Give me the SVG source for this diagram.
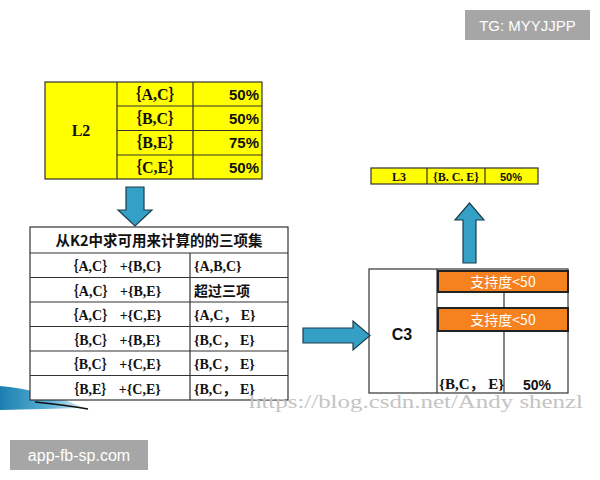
<svg xmlns="http://www.w3.org/2000/svg" width="600" height="480" viewBox="0 0 600 480">
<defs>
<linearGradient id="sw" x1="0" y1="0" x2="1" y2="0">
<stop offset="0" stop-color="#1a7fb0"/>
<stop offset="0.6" stop-color="#5fb3d6"/>
<stop offset="1" stop-color="#e8f4fa"/>
</linearGradient>
<style>
.ln{stroke:#333;stroke-width:1.2;fill:none}
.yl{fill:#ffff00;stroke:#333;stroke-width:1.2}
.ser{font-family:"Liberation Serif","Noto Sans CJK SC",serif;font-weight:bold;fill:#111}
.san{font-family:"Liberation Sans",Arial,sans-serif;font-weight:bold;fill:#111}
.cjk{font-family:"Noto Sans CJK SC",sans-serif;font-weight:bold;fill:#111}
.arr{fill:#35a0c6;stroke:#1d3d4d;stroke-width:1.2}
.org{fill:#f5821f;stroke:#222;stroke-width:2}
.ow{font-family:"Noto Sans CJK SC","Liberation Sans",sans-serif;fill:#fff;font-size:14px}
.tag{fill:#a6a6a6}
.tt{font-family:"Liberation Sans",Arial,sans-serif;fill:#fff}
</style>
</defs>
<rect width="600" height="480" fill="#fff"/>
<g id="swoosh">
<path d="M0,386 C25,388 55,395 85,408 L0,410 Z" fill="url(#sw)"/>
<path d="M35,402 C55,404 72,406 88,409" stroke="#111" stroke-width="1.6" fill="none"/>
</g>
<g id="L2">
<rect class="yl" x="45" y="82" width="217" height="97"/>
<path class="ln" d="M117,82V179M193,82V179M117,106H262M117,130.5H262M117,155H262"/>
<text class="ser" x="81" y="136" font-size="16" text-anchor="middle">L2</text>
<text class="ser" x="155" y="100" font-size="16" text-anchor="middle">｛A,C｝</text>
<text class="ser" x="155" y="124" font-size="16" text-anchor="middle">｛B,C｝</text>
<text class="ser" x="155" y="148" font-size="16" text-anchor="middle">｛B,E｝</text>
<text class="ser" x="155" y="173" font-size="16" text-anchor="middle">｛C,E｝</text>
<text class="san" x="259" y="100" font-size="15" text-anchor="end">50%</text>
<text class="san" x="259" y="124" font-size="15" text-anchor="end">50%</text>
<text class="san" x="259" y="148" font-size="15" text-anchor="end">75%</text>
<text class="san" x="259" y="173" font-size="15" text-anchor="end">50%</text>
</g>
<g id="T3">
<rect x="30" y="227" width="258" height="173" fill="#fff" stroke="#333" stroke-width="1.2"/>
<path class="ln" d="M30,253H288M30,277.5H288M30,302H288M30,326.5H288M30,351H288M30,375.5H288M190,253V400"/>
<text class="cjk" x="159" y="246" font-size="14.5" text-anchor="middle">从K2中求可用来计算的的三项集</text>
<text class="ser" x="113" y="271" font-size="14" text-anchor="middle">｛A,C｝ +{B,C}</text>
<text class="ser" x="113" y="295.5" font-size="14" text-anchor="middle">｛A,C｝ +{B,E}</text>
<text class="ser" x="113" y="320" font-size="14" text-anchor="middle">｛A,C｝ +{C,E}</text>
<text class="ser" x="113" y="344.5" font-size="14" text-anchor="middle">｛B,C｝ +{B,E}</text>
<text class="ser" x="113" y="369" font-size="14" text-anchor="middle">｛B,C｝ +{C,E}</text>
<text class="ser" x="113" y="393.5" font-size="14" text-anchor="middle">｛B,E｝ +{C,E}</text>
<text class="ser" x="194" y="271" font-size="14">{A,B,C}</text>
<text class="cjk" x="194" y="295.5" font-size="14">超过三项</text>
<text class="ser" x="194" y="320" font-size="14">{A,C， E}</text>
<text class="ser" x="194" y="344.5" font-size="14">{B,C， E}</text>
<text class="ser" x="194" y="369" font-size="14">{B,C， E}</text>
<text class="ser" x="194" y="393.5" font-size="14">{B,C， E}</text>
</g>
<g id="L3">
<rect class="yl" x="371" y="168" width="167" height="16"/>
<path class="ln" d="M427,168V184M485,168V184"/>
<text class="ser" x="399" y="180.5" font-size="12" text-anchor="middle">L3</text>
<text class="ser" x="456" y="180.5" font-size="12" text-anchor="middle">{B. C. E}</text>
<text class="san" x="511" y="180.5" font-size="11" text-anchor="middle">50%</text>
</g>
<g id="C3">
<rect x="369" y="269" width="199" height="124" fill="#fff" stroke="#333" stroke-width="1.2"/>
<path class="ln" d="M437,269V393M504,292V308M504,331V393"/>
<rect class="org" x="438" y="271" width="130" height="21"/>
<rect class="org" x="438" y="308" width="130" height="23"/>
<text class="ow" x="503" y="287" text-anchor="middle">支持度&lt;50</text>
<text class="ow" x="503" y="325" text-anchor="middle">支持度&lt;50</text>
<text class="san" x="402" y="340" font-size="16" font-weight="normal" text-anchor="middle">C3</text>
<text class="ser" x="439" y="389" font-size="15" font-weight="normal">{B,C， E}</text>
<text class="san" x="537" y="390" font-size="14" text-anchor="middle">50%</text>
</g>
<g id="connectors">
<polygon class="arr" points="126,187 144,187 144,210 152,210 135,226 118,210 126,210"/>
<polygon class="arr" points="303,328 353,328 353,321 370,335.5 353,350 353,343 303,343"/>
<polygon class="arr" points="463,263 463,220 455,220 469.5,203 484,220 476,220 476,263"/>
</g>
<g id="watermark">
<text x="249" y="408" font-family="Liberation Serif,serif" font-size="19" fill="#c4c4c4" textLength="334" lengthAdjust="spacingAndGlyphs">https://blog.csdn.net/Andy shenzl</text>
</g>
<g id="tag-top">
<rect class="tag" x="465" y="10" width="125" height="30"/>
<text class="tt" x="527.5" y="30.5" font-size="15" text-anchor="middle">TG: MYYJJPP</text>
</g>
<g id="tag-bottom">
<rect class="tag" x="10" y="440" width="138" height="30"/>
<text class="tt" x="79" y="461" font-size="16" text-anchor="middle">app-fb-sp.com</text>
</g>
</svg>
